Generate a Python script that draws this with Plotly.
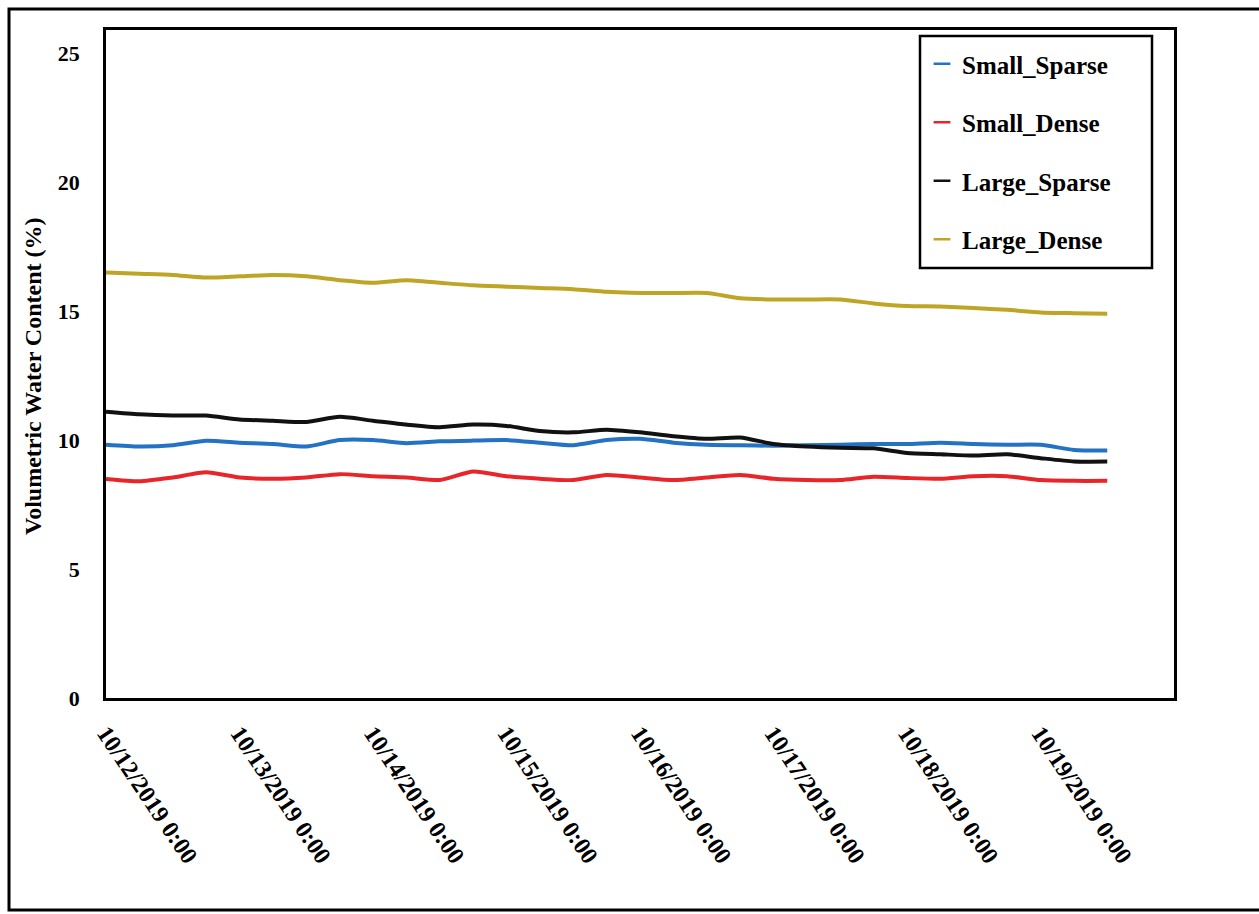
import plotly.graph_objects as go
import pandas as pd

# Sampling times: every 6 hours from 10/12/2019 0:00 to 10/19/2019 12:00
times = pd.date_range("2019-10-12 00:00", "2019-10-19 12:00", freq="6h")

small_sparse = [9.82, 9.75, 9.80, 9.97, 9.90, 9.85, 9.75, 10.00, 10.00, 9.88, 9.95,
                9.98, 10.00, 9.90, 9.80, 10.00, 10.05, 9.90, 9.82, 9.80, 9.78, 9.80,
                9.82, 9.85, 9.85, 9.90, 9.85, 9.82, 9.82, 9.62, 9.60]
small_dense = [8.49, 8.40, 8.55, 8.75, 8.55, 8.50, 8.55, 8.68, 8.60, 8.55, 8.45,
               8.78, 8.60, 8.50, 8.45, 8.65, 8.55, 8.45, 8.55, 8.65, 8.50, 8.45,
               8.45, 8.58, 8.53, 8.50, 8.60, 8.60, 8.45, 8.42, 8.42]
large_sparse = [11.10, 11.00, 10.95, 10.95, 10.80, 10.75, 10.70, 10.90, 10.75, 10.60, 10.50,
                10.60, 10.55, 10.35, 10.30, 10.40, 10.30, 10.15, 10.05, 10.10, 9.85, 9.75,
                9.70, 9.68, 9.50, 9.45, 9.40, 9.45, 9.30, 9.17, 9.17]
large_dense = [16.50, 16.45, 16.40, 16.30, 16.35, 16.40, 16.35, 16.20, 16.10, 16.20, 16.10,
               16.00, 15.95, 15.90, 15.85, 15.75, 15.70, 15.70, 15.70, 15.50, 15.45, 15.45,
               15.45, 15.30, 15.20, 15.18, 15.12, 15.05, 14.95, 14.92, 14.90]

series_names = ["Small_Sparse", "Small_Dense", "Large_Sparse", "Large_Dense"]
series_values = [small_sparse, small_dense, large_sparse, large_dense]
series_colors = ["#2372C4", "#E8262A", "#111111", "#BFA526"]

tick_dates = pd.date_range("2019-10-12", "2019-10-20", freq="D")
tick_labels = [f"{d.month}/{d.day}/{d.year} 0:00" for d in tick_dates]

FONT = "Liberation Serif"
W, H = 1259, 914
L, R, T, B = 106, 85, 30, 216
PW, PH = W - L - R, H - T - B


def px_x(p):
    """Convert a page x pixel to paper coordinates."""
    return (p - L) / PW


def px_y(p):
    """Convert a page y pixel to paper coordinates."""
    return (H - B - p) / PH


fig = go.Figure()
for name, vals, col in zip(series_names, series_values, series_colors):
    fig.add_trace(go.Scatter(
        x=times, y=vals, mode="lines", name=name, showlegend=False,
        line=dict(color=col, width=4, shape="spline", smoothing=0.6),
    ))
    # short dash used as the legend key for each series
    fig.add_trace(go.Scatter(
        x=[None], y=[None], mode="markers", name=name, legendgroup=name,
        marker=dict(symbol="line-ew", size=12, line=dict(color=col, width=2.5)),
    ))

fig.update_layout(
    width=W, height=H,
    margin=dict(l=L, r=R, t=T, b=B),
    paper_bgcolor="white", plot_bgcolor="white",
    font=dict(family=FONT, color="black"),
    showlegend=True,
    legend=dict(
        x=px_x(922), y=px_y(41), xanchor="left", yanchor="top",
        bgcolor="rgba(0,0,0,0)", borderwidth=0,
        font=dict(family=FONT, size=25, color="black", weight="bold"),
        tracegroupgap=23, itemwidth=30,
    ),
    xaxis=dict(
        type="date",
        range=[tick_dates[0], tick_dates[-1]],
        tickvals=tick_dates, ticktext=tick_labels,
        tickangle=56,
        tickfont=dict(family=FONT, size=24, color="black", weight="bold"),
        ticklabelstandoff=9,
        showline=True, linecolor="black", linewidth=2.5, mirror=True,
        showgrid=False, zeroline=False, ticks="",
    ),
    yaxis=dict(
        range=[0, 25.9], dtick=5, tick0=0,
        tickfont=dict(family=FONT, size=22, color="black", weight="bold"),
        ticklabelstandoff=19,
        showline=True, linecolor="black", linewidth=2.5, mirror=True,
        showgrid=False, zeroline=False, ticks="",
    ),
    annotations=[
        dict(text="Volumetric Water Content (%)", textangle=-90,
             xref="paper", yref="paper", x=px_x(33), y=px_y(376),
             xanchor="center", yanchor="middle", showarrow=False,
             font=dict(family=FONT, size=24, color="black", weight="bold")),
    ],
    shapes=[
        # legend frame
        dict(type="rect", xref="paper", yref="paper",
             x0=px_x(920), x1=px_x(1152), y0=px_y(268), y1=px_y(36),
             line=dict(color="black", width=2.5), fillcolor="rgba(0,0,0,0)"),
        # outer chart frame
        dict(type="rect", xref="paper", yref="paper",
             x0=px_x(9), x1=px_x(1275), y0=px_y(910), y1=px_y(9),
             line=dict(color="black", width=3), fillcolor="rgba(0,0,0,0)"),
    ],
)

fig.write_html("out.html")
